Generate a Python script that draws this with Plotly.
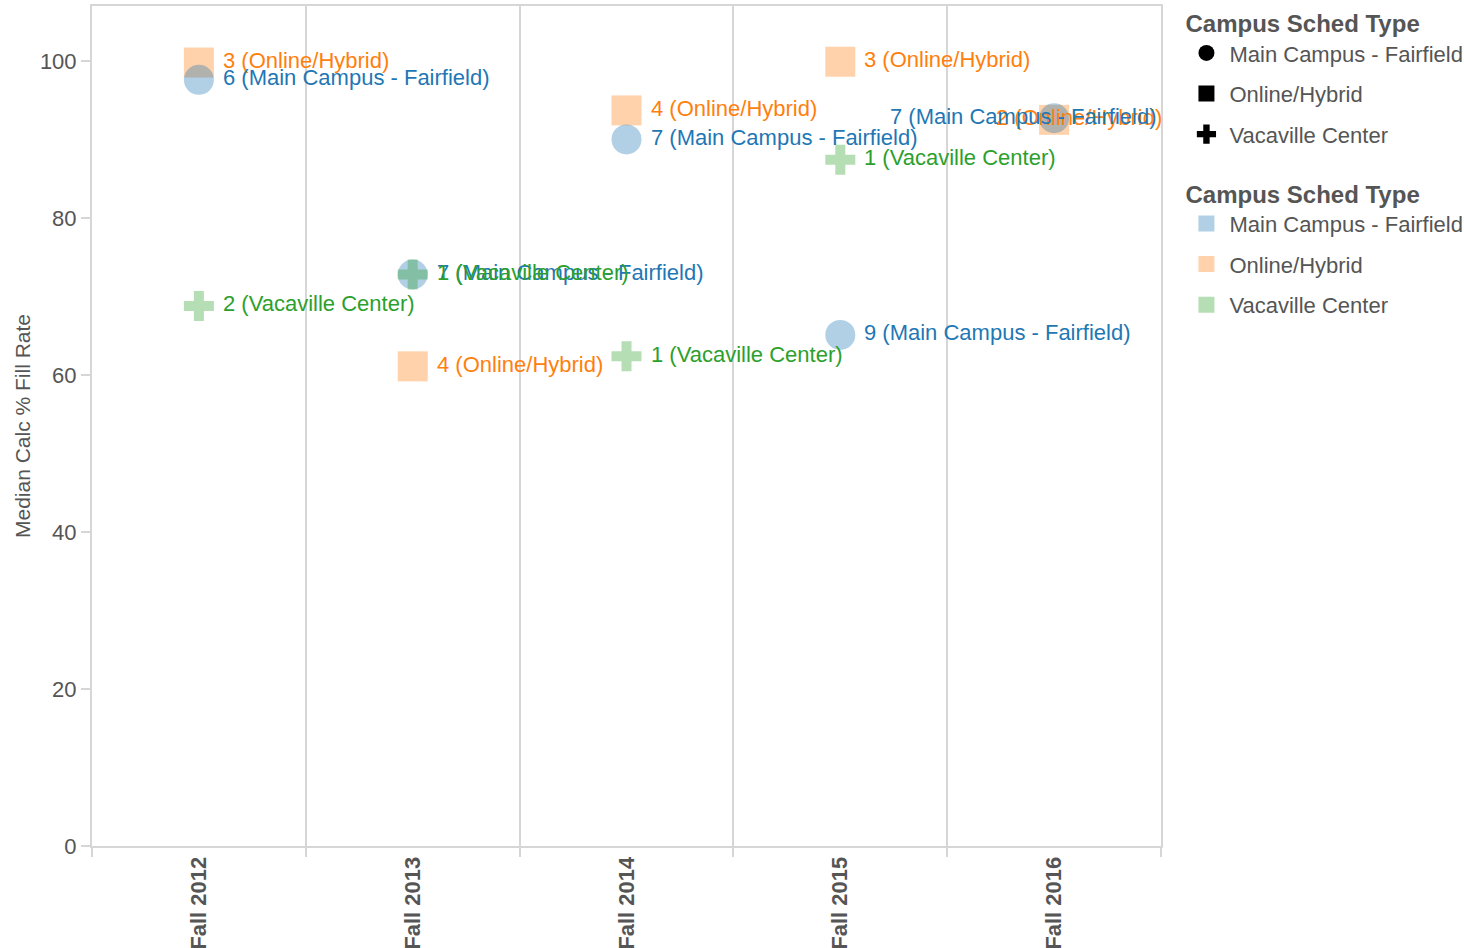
import plotly.graph_objects as go

# ---- data ----
terms = ["Fall 2012", "Fall 2013", "Fall 2014", "Fall 2015", "Fall 2016"]
series_names = ["Online/Hybrid", "Main Campus - Fairfield", "Vacaville Center"]

online_fill = [99.8, 61.1, 93.7, 99.9, 92.5]
online_count = [3, 4, 4, 3, 2]

main_fill = [97.6, 72.8, 90.0, 65.1, 92.7]
main_count = [6, 7, 7, 9, 7]

vaca_fill = [68.8, 72.8, 62.4, 87.4, None]
vaca_count = [2, 1, 1, 1, None]

legend_order = ["Main Campus - Fairfield", "Online/Hybrid", "Vacaville Center"]

# ---- styles ----
FONT = "Arial, Liberation Sans, Helvetica, sans-serif"
GREY = "#555555"
LINE = "#d6d6d6"
style = {
    "Main Campus - Fairfield": dict(symbol="circle", size=30, fill="rgba(31,119,180,0.35)", text="#1f77b4"),
    "Online/Hybrid": dict(symbol="square", size=30, fill="rgba(255,127,14,0.35)", text="#ff7f0e"),
    "Vacaville Center": dict(symbol="cross", size=25, fill="rgba(44,160,44,0.35)", text="#2ca02c"),
}
data = {
    "Online/Hybrid": (online_fill, online_count),
    "Main Campus - Fairfield": (main_fill, main_count),
    "Vacaville Center": (vaca_fill, vaca_count),
}

fig = go.Figure()
annotations = []
for name in series_names:
    vals, counts = data[name]
    st = style[name]
    xs = [t for t, v in zip(terms, vals) if v is not None]
    ys = [v for v in vals if v is not None]
    fig.add_trace(go.Scatter(
        x=xs, y=ys, mode="markers", showlegend=False, name=name,
        marker=dict(symbol=st["symbol"], size=st["size"], color=st["fill"], line=dict(width=0)),
        hovertemplate="%{x}<br>%{y}<extra>" + name + "</extra>",
    ))
    for t, v, c in zip(terms, vals, counts):
        if v is None:
            continue
        xanchor, xshift = "left", 22
        if t == "Fall 2016" and name == "Main Campus - Fairfield":
            xanchor, xshift = "right", 105
        if t == "Fall 2016" and name == "Online/Hybrid":
            xanchor, xshift = "left", -60
        annotations.append(dict(
            x=t, y=v, xref="x", yref="y", text=f"{c} ({name})", showarrow=False,
            xanchor=xanchor, yanchor="middle", xshift=xshift, yshift=2,
            font=dict(family=FONT, size=22, color=st["text"]),
        ))

# legend 1: shapes
for i, name in enumerate(legend_order):
    fig.add_trace(go.Scatter(
        x=[None], y=[None], mode="markers", name=name, legend="legend",
        legendgroup="shape" + str(i),
        marker=dict(symbol=style[name]["symbol"], size=16, color="black", line=dict(width=0)),
    ))
# legend 2: colours
for i, name in enumerate(legend_order):
    fig.add_trace(go.Scatter(
        x=[None], y=[None], mode="markers", name=name, legend="legend2",
        legendgroup="color" + str(i),
        marker=dict(symbol="square", size=16, color=style[name]["fill"], line=dict(width=0)),
    ))

legend_common = dict(
    font=dict(family=FONT, size=22, color=GREY),
    bgcolor="rgba(0,0,0,0)", borderwidth=0,
    xanchor="left", yanchor="top", tracegroupgap=9, itemwidth=36,
    itemclick=False, itemdoubleclick=False,
)

fig.update_layout(
    width=1464, height=948,
    margin=dict(l=92, r=303, t=6, b=102, autoexpand=False),
    paper_bgcolor="white", plot_bgcolor="white",
    font=dict(family=FONT, size=22, color=GREY),
    annotations=annotations,
    xaxis=dict(
        type="category", categoryorder="array", categoryarray=terms,
        range=[-0.5, 4.5], tickson="boundaries",
        showgrid=True, gridcolor=LINE, gridwidth=2,
        showline=True, linecolor=LINE, linewidth=2, mirror=True,
        ticks="outside", ticklen=9, tickcolor=LINE, tickwidth=2,
        tickangle=-90, tickfont=dict(family=FONT, size=22, color=GREY, weight="bold"),
        zeroline=False, fixedrange=True,
    ),
    yaxis=dict(
        range=[0, 107.0], tickvals=[0, 20, 40, 60, 80, 100],
        showgrid=False, zeroline=False,
        showline=True, linecolor=LINE, linewidth=2, mirror=True,
        ticks="outside", ticklen=9, tickcolor=LINE, tickwidth=2,
        tickfont=dict(family=FONT, size=22, color=GREY),
        title=dict(text="Median Calc % Fill Rate", font=dict(family=FONT, size=21, color=GREY), standoff=4),
        fixedrange=True,
    ),
    legend=dict(
        x=1.021, y=1.006,
        title=dict(text="<b>Campus Sched Type</b>", font=dict(family=FONT, size=24, color=GREY)),
        **legend_common,
    ),
    legend2=dict(
        x=1.021, y=0.803,
        title=dict(text="<b>Campus Sched Type</b>", font=dict(family=FONT, size=24, color=GREY)),
        **legend_common,
    ),
    showlegend=True,
)

fig.write_html(
    "out.html",
    config={"displayModeBar": False},
    post_script="document.body.style.margin='0';document.body.style.overflow='hidden';",
)
